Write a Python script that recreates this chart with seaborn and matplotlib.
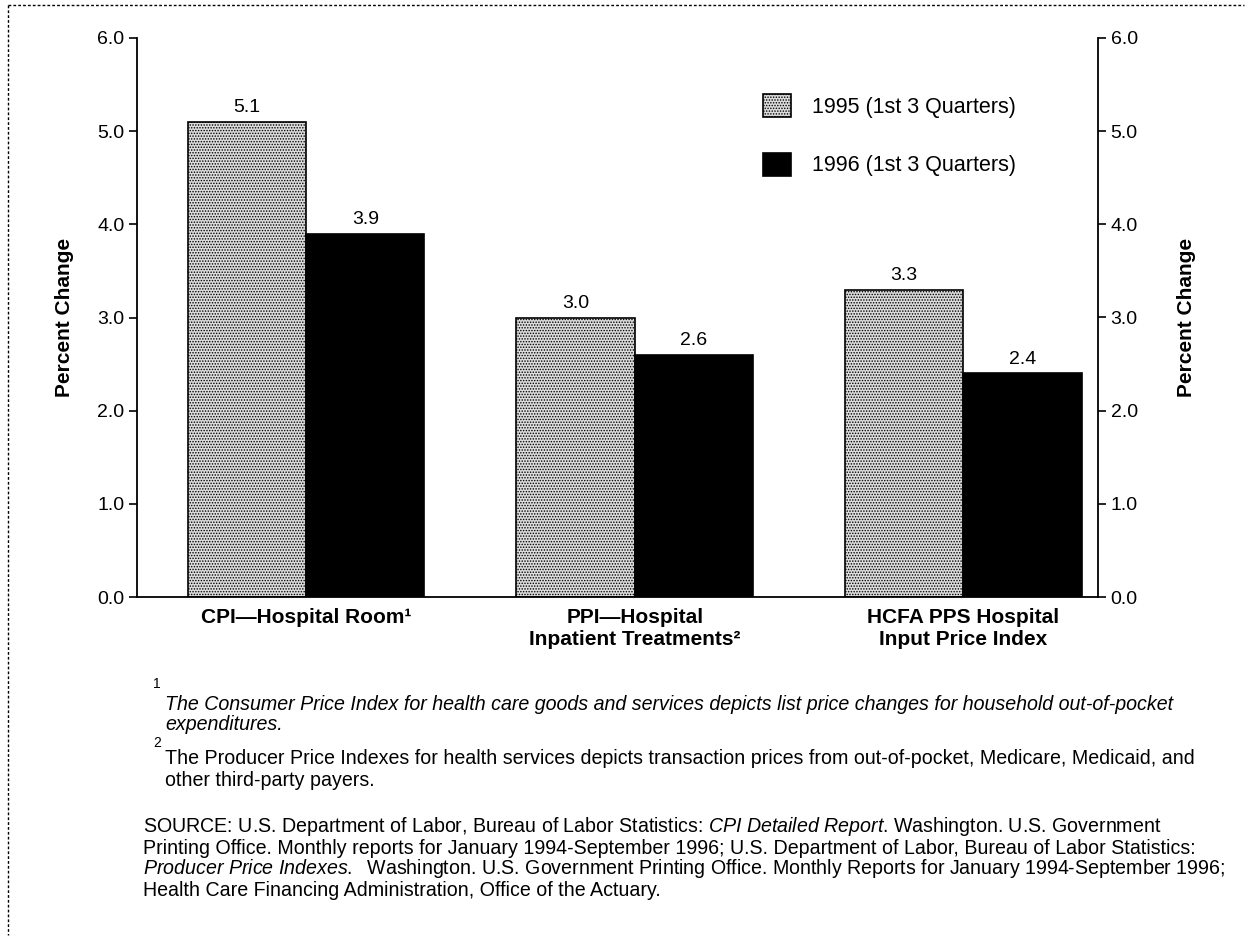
import matplotlib
matplotlib.use("Agg")
import matplotlib.pyplot as plt
from matplotlib.lines import Line2D
import seaborn as sns
import pandas as pd

categories = ["CPI\u2014Hospital Room\u00b9",
              "PPI\u2014Hospital\nInpatient Treatments\u00b2",
              "HCFA PPS Hospital\nInput Price Index"]
series = ["1995 (1st 3 Quarters)", "1996 (1st 3 Quarters)"]
values_1995 = [5.1, 3.0, 3.3]
values_1996 = [3.9, 2.6, 2.4]
yticks = [0, 1, 2, 3, 4, 5, 6]
ytick_labels = ["0.0", "1.0", "2.0", "3.0", "4.0", "5.0", "6.0"]

sns.set_theme(style="white")
plt.rcParams['font.family'] = ['Liberation Sans', 'DejaVu Sans']
plt.rcParams['mathtext.fontset'] = 'custom'
plt.rcParams['mathtext.rm'] = 'Liberation Sans'
plt.rcParams['mathtext.it'] = 'Liberation Sans:italic'
plt.rcParams['hatch.linewidth'] = 0.7
for k in ['text.color', 'axes.labelcolor', 'xtick.color', 'ytick.color']:
    plt.rcParams[k] = 'black'

df = pd.DataFrame({
    "category": categories * 2,
    "series": [series[0]] * 3 + [series[1]] * 3,
    "value": values_1995 + values_1996,
})

W, H = 1249, 939
fig = plt.figure(figsize=(W / 100, H / 100), dpi=100)
ax = fig.add_axes([137 / W, 1 - 597 / H, (1098 - 137) / W, (597 - 38) / H])

sns.barplot(data=df, x="category", y="value", hue="series",
            palette=["#dcdcdc", "#000000"], width=0.72, saturation=1,
            edgecolor="black", linewidth=1.2, errorbar=None, ax=ax)

gray = ax.containers[0]
for p in gray:
    p.set_hatch("......")
    try:
        p.set_hatchcolor("#6a6a6a")
    except Exception:
        pass

for c in ax.containers:
    ax.bar_label(c, fmt="%.1f", padding=4, fontsize=14)

ax.set_ylim(0, 6)
ax.set_xlim(-0.515, 2.41)
ax.set_yticks(yticks)
ax.set_yticklabels(ytick_labels, fontsize=14)
ax.set_xlabel("")
ax.set_ylabel("Percent Change", fontsize=15, fontweight="bold", labelpad=17)
ax.tick_params(axis="y", direction="out", length=6, width=1.2, color="black", pad=3)
ax.tick_params(axis="x", length=0, pad=8)
for lab in ax.get_xticklabels():
    lab.set_fontweight("bold")
    lab.set_fontsize(15)
for s in ["left", "right", "bottom"]:
    ax.spines[s].set_visible(True)
    ax.spines[s].set_color("black")
    ax.spines[s].set_linewidth(1.3)
ax.spines["top"].set_visible(False)

ax2 = ax.twinx()
ax2.set_ylim(0, 6)
ax2.set_yticks(yticks)
ax2.set_yticklabels(ytick_labels, fontsize=14)
ax2.set_ylabel("Percent Change", fontsize=15, fontweight="bold", labelpad=28, rotation=90)
ax2.yaxis.set_label_position("right")
ax2.tick_params(axis="y", direction="out", length=6, width=1.2, color="black", pad=3)
for s in ["left", "right", "bottom", "top"]:
    ax2.spines[s].set_visible(False)

handles, labels = ax.get_legend_handles_labels()
ax.get_legend().remove()
leg = ax.legend(handles, labels, loc="upper left", bbox_to_anchor=(0.631, 0.935),
                frameon=False, fontsize=15.5, handlelength=1.3, handleheight=1.3,
                labelspacing=1.62, handletextpad=1.0)
lh = leg.legend_handles
lh[0].set_hatch("......")
lh[0].set_edgecolor("black")
try:
    lh[0].set_hatchcolor("#6a6a6a")
except Exception:
    pass

fs = 14.1
def ft(x, y, s, **kw):
    fig.text(x / W, 1 - y / H, s, va="center", ha="left", **kw)

ft(153, 684, "1", fontsize=10)
ft(165, 704, "The Consumer Price Index for health care goods and services depicts list price changes for household out-of-pocket",
   fontsize=fs, style="italic")
ft(165, 725, "expenditures.", fontsize=fs, style="italic")
ft(153, 743, "2", fontsize=10)
ft(165, 759, "The Producer Price Indexes for health services depicts transaction prices from out-of-pocket, Medicare, Medicaid, and",
   fontsize=fs)
ft(165, 780, "other third-party payers.", fontsize=fs)

ft(143, 827, r"SOURCE: U.S. Department of Labor, Bureau of Labor Statistics: $\it{CPI\ Detailed\ Report}$. Washington. U.S. Government",
   fontsize=fs)
ft(143, 848, "Printing Office. Monthly reports for January 1994-September 1996; U.S. Department of Labor, Bureau of Labor Statistics:",
   fontsize=fs)
ft(143, 869, r"$\it{Producer\ Price\ Indexes.}$  Washington. U.S. Government Printing Office. Monthly Reports for January 1994-September 1996;",
   fontsize=fs)
ft(143, 890, "Health Care Financing Administration, Office of the Actuary.", fontsize=fs)

# dotted page border (top and left)
fig.add_artist(Line2D([8 / W, 1244 / W], [1 - 5 / H, 1 - 5 / H], transform=fig.transFigure,
                      color="black", lw=1, ls=(0, (2, 1.5))))
fig.add_artist(Line2D([8 / W, 8 / W], [1 - 5 / H, 1 - 935 / H], transform=fig.transFigure,
                      color="black", lw=1, ls=(0, (2, 1.5))))

fig.savefig("out.png", dpi=100, facecolor="white")
